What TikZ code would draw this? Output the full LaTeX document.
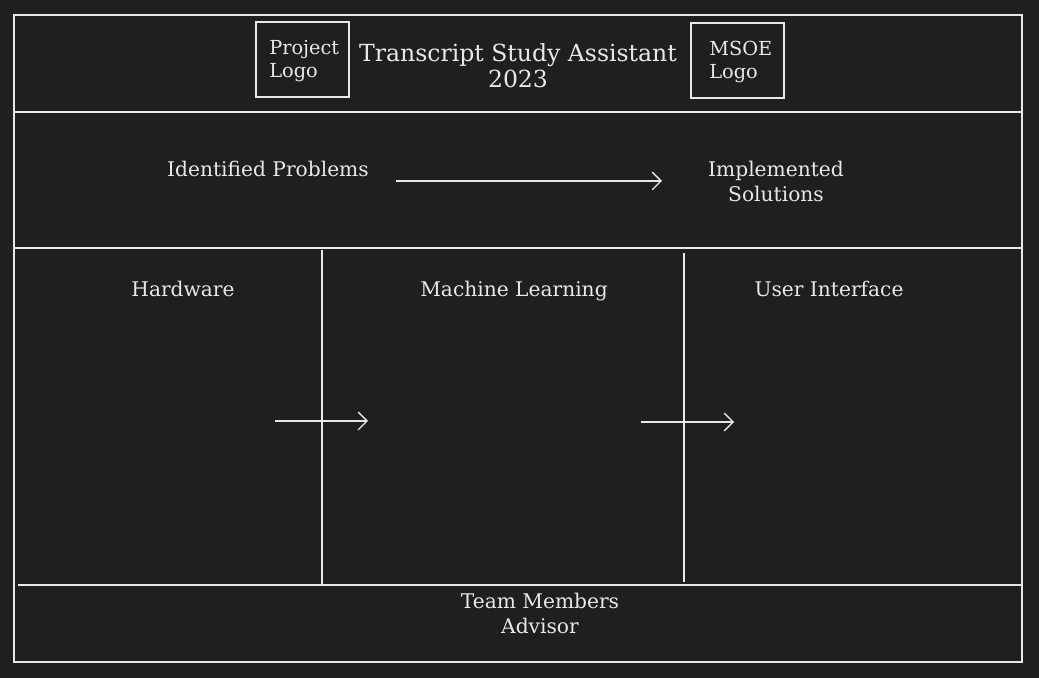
\documentclass[tikz,border=0pt]{standalone}
\usepackage{fontspec}
\setmainfont{DejaVu Serif}
\usetikzlibrary{arrows.meta}
\definecolor{board}{HTML}{201F1E}
\definecolor{chalk}{HTML}{E8E8E8}
\begin{document}
\begin{tikzpicture}[x=0.02cm,y=-0.02cm,
    label/.style ={text=chalk, font=\fontsize{11.5}{14.2}\selectfont, align=center, inner sep=0pt},
    logotext/.style ={text=chalk, font=\fontsize{11}{13.6}\selectfont, align=left, inner sep=0pt, anchor=west},
    logobox/.style ={draw=chalk, thick, minimum width=1.86cm, minimum height=1.5cm, inner sep=0pt},
    rule/.style ={draw=chalk, thick},
    flow/.style ={draw=chalk, thick, -{Straight Barb[length=5pt,width=10pt]}}]
   \fill[board] (0,0) rectangle (1039,678);
   \useasboundingbox (0,0) rectangle (1039,678);
   % frame and panels
   \draw[rule] (14,15) rectangle (1022,662);
   \draw[rule] (15,112) -- (1021,112);
   \draw[rule] (15,248) -- (1021,248);
   \draw[rule] (18,585) -- (1021,585);
   \draw[rule] (322,250) -- (322,585);
   \draw[rule] (684,253) -- (684,582);
   % header
   \node[logobox] (pbox) at (302.5,59.5) {};
   \node[logobox] (mbox) at (737.5,60.5) {};
   \node[logotext] (plogo) at (269,61) {Project\\Logo};
   \node[logotext] (mlogo) at (709,62) {MSOE\\Logo};
   \node[label, font=\fontsize{13.4}{14.8}\selectfont] (title) at (518,65.5) {Transcript Study Assistant\\2023};
   % problems and solutions
   \node[label, anchor=base] (prob) at (268,176.5) {Identified Problems};
   \node[label] (sol)  at (776,181) {Implemented\\Solutions};
   \coordinate (probout) at (396,181);
   \coordinate (solin)   at (662,181);
   \draw[flow] (probout) -- (solin);
   % columns
   \node[label, anchor=base] (hw) at (183,296.5) {Hardware};
   \node[label, anchor=base] (ml) at (514,296.5) {Machine Learning};
   \node[label, anchor=base] (ui) at (829,296.5) {User Interface};
   \coordinate (hwout) at (275,421);
   \coordinate (mlin)  at (368,421);
   \coordinate (mlout) at (641,422);
   \coordinate (uiin)  at (734,422);
   \draw[flow] (hwout) -- (mlin);
   \draw[flow] (mlout) -- (uiin);
   % footer
   \node[label] (team) at (540,613) {Team Members\\Advisor};
 \end{tikzpicture}
\end{document}
